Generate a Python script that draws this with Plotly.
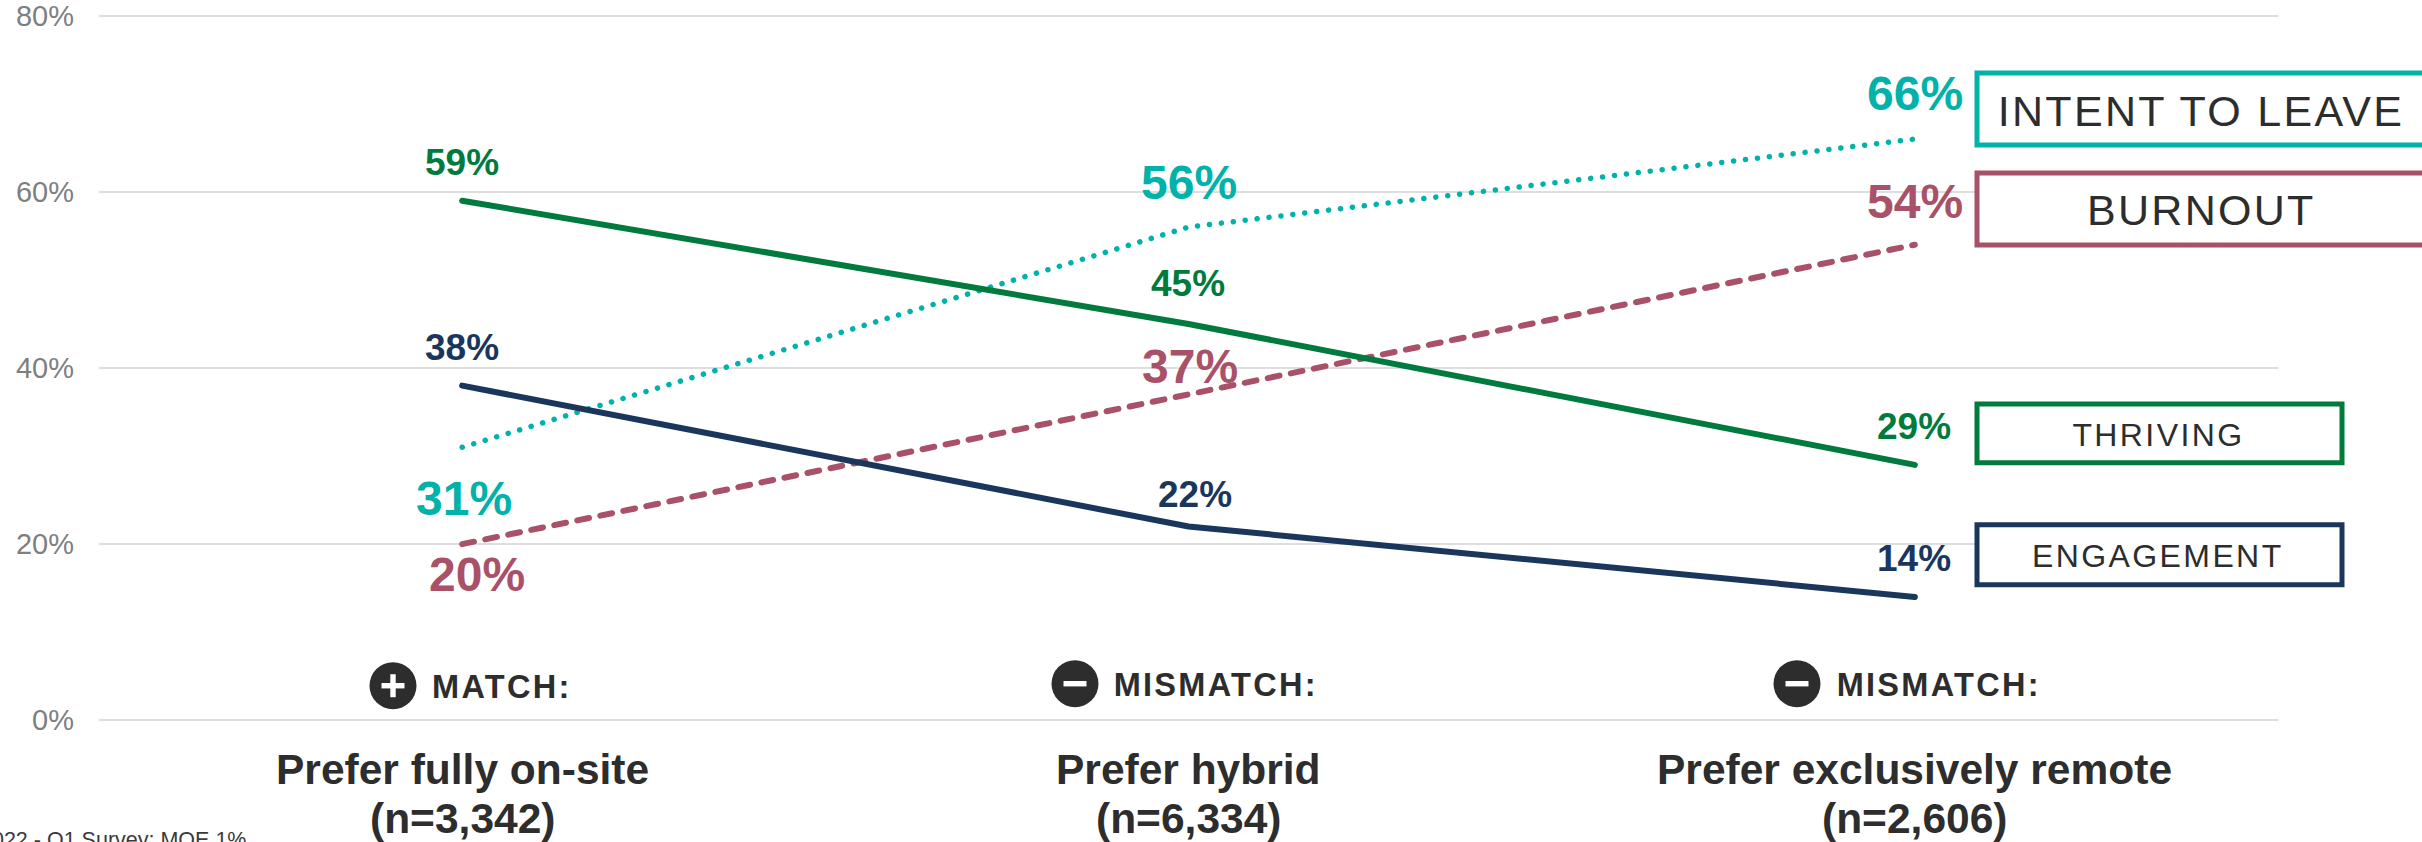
import plotly.graph_objects as go

# Survey results by work-location preference
categories = ["Prefer fully on-site", "Prefer hybrid", "Prefer exclusively remote"]
sample_sizes = ["n=3,342", "n=6,334", "n=2,606"]
match_labels = ["MATCH:", "MISMATCH:", "MISMATCH:"]
match_signs = ["+", "-", "-"]

intent_to_leave = [31, 56, 66]
burnout = [20, 37, 54]
thriving = [59, 45, 29]
engagement = [38, 22, 14]

y_ticks = [0, 20, 40, 60, 80]
source_note = "2022 - Q1 Survey; MOE 1%"

TEAL = "#00B2A9"
ROSE = "#A95168"
GREEN = "#007A3D"
NAVY = "#1B365D"
INK = "#2D2D2D"

W, H = 2422, 842
L, R, T, B = 99, 144, 6.9, 112.7


def px(x):
    return (x - L) / (W - L - R)


def py(y):
    return 1 - (y - T) / (H - T - B)


fig = go.Figure()

series = [
    ("Intent to leave", intent_to_leave, TEAL, "0.1px,11.9px", 5.5),
    ("Burnout", burnout, ROSE, "12px,11.5px", 6),
    ("Thriving", thriving, GREEN, "solid", 6),
    ("Engagement", engagement, NAVY, "solid", 6),
]
for name, values, color, dash, width in series:
    fig.add_trace(go.Scatter(
        x=[0, 1, 2], y=values, name=name, mode="lines",
        line=dict(color=color, width=width, dash=dash),
        showlegend=False, hoverinfo="skip",
    ))

annotations = []


def value_label(i, value, color, size, dy, dx=0):
    annotations.append(dict(
        x=i, y=value, xref="x", yref="y", text=f"<b>{value}%</b>", showarrow=False,
        xshift=dx, yshift=dy, xanchor="center", yanchor="middle",
        font=dict(family="Liberation Sans", size=size, color=color),
    ))


# Point labels, offset from each line by hand so they do not collide
for i, (v, dy, dx) in enumerate(zip(intent_to_leave, [-51, 45, 46], [2, 0, 0])):
    value_label(i, v, TEAL, 48, dy, dx)
for i, (v, dy, dx) in enumerate(zip(burnout, [-30, 28, 43], [15, 1, 0])):
    value_label(i, v, ROSE, 48, dy, dx)
for i, (v, dy, dx) in enumerate(zip(thriving, [38, 40, 38], [0, -1, -1])):
    value_label(i, v, GREEN, 37, dy, dx)
for i, (v, dy, dx) in enumerate(zip(engagement, [38, 32, 38], [0, 6, -1])):
    value_label(i, v, NAVY, 37, dy, dx)

# Category names and sample sizes, set closer together than tick labels allow
for i, (cat, n) in enumerate(zip(categories, sample_sizes)):
    for text, y in ((cat, 770), (f"({n})", 819)):
        annotations.append(dict(
            x=i, xref="x", y=py(y), yref="paper", text=f"<b>{text}</b>", showarrow=False,
            xanchor="center", yanchor="middle",
            font=dict(family="Liberation Sans", size=42.5, color=INK),
        ))

shapes = []

# Legend boxes on the right, white-filled so they hide the gridlines behind them
boxes = [
    ("INTENT TO LEAVE", TEAL, 73, 145, 2480, 2201, 43),
    ("BURNOUT", ROSE, 173, 245, 2480, 2201, 43),
    ("THRIVING", GREEN, 404, 463, 2342, 2158, 32),
    ("ENGAGEMENT", NAVY, 525, 585, 2342, 2158, 32),
]
for label, color, y0, y1, x1, cx, size in boxes:
    shapes.append(dict(
        type="rect", xref="paper", yref="paper", layer="above",
        x0=px(1977), x1=px(x1), y0=py(y1), y1=py(y0),
        line=dict(color=color, width=5), fillcolor="white",
    ))
    annotations.append(dict(
        xref="paper", yref="paper", x=px(cx), y=py((y0 + y1) / 2 + 1.5), text=label,
        showarrow=False, xanchor="center", yanchor="middle",
        font=dict(family="Liberation Sans", size=size, color=INK),
    ))

# Match / mismatch badges above the category labels
badges = [(393, 686, 437, 687.5), (1075, 684, 1122, 685.5), (1797, 684, 1845, 685.5)]
for (cx, cy, tx, ty), label, sign in zip(badges, match_labels, match_signs):
    shapes.append(dict(
        type="circle", xref="paper", yref="paper", layer="above",
        x0=px(cx - 23.5), x1=px(cx + 23.5), y0=py(cy + 23.5), y1=py(cy - 23.5),
        line=dict(width=0), fillcolor=INK,
    ))
    shapes.append(dict(
        type="rect", xref="paper", yref="paper", layer="above",
        x0=px(cx - 11.5), x1=px(cx + 11.5), y0=py(cy + 2.7), y1=py(cy - 2.7),
        line=dict(width=0), fillcolor="white",
    ))
    if sign == "+":
        shapes.append(dict(
            type="rect", xref="paper", yref="paper", layer="above",
            x0=px(cx - 2.7), x1=px(cx + 2.7), y0=py(cy + 11.5), y1=py(cy - 11.5),
            line=dict(width=0), fillcolor="white",
        ))
    annotations.append(dict(
        xref="paper", yref="paper", x=px(tx), y=py(ty), text=f"<b>{label}</b>",
        showarrow=False, xanchor="left", yanchor="middle",
        font=dict(family="Liberation Sans", size=32.5, color=INK),
    ))

annotations.append(dict(
    xref="paper", yref="paper", x=px(248), y=py(840), text=source_note,
    showarrow=False, xanchor="right", yanchor="middle",
    font=dict(family="Liberation Sans", size=21.5, color="#3A3A3A"),
))

fig.update_layout(
    width=W, height=H, margin=dict(l=L, r=R, t=T, b=B, autoexpand=False),
    paper_bgcolor="white", plot_bgcolor="white",
    shapes=shapes, annotations=annotations,
    xaxis=dict(
        range=[-0.5, 2.5], tickmode="array", tickvals=[0, 1, 2], automargin=False,
        showticklabels=False, showgrid=False, zeroline=False, showline=False, ticks="",
    ),
    yaxis=dict(
        range=[-1, 81], tickmode="array", tickvals=y_ticks, automargin=False,
        ticktext=[f"{t}%" for t in y_ticks],
        tickfont=dict(family="Liberation Sans", size=29, color="#7F7F7F"),
        ticklabeloverflow="allow",
        showgrid=True, gridcolor="#DEDEDE", gridwidth=2,
        zeroline=False, showline=False, ticks="", ticklabelstandoff=24,
    ),
)

# Rounded line ends and tracked capitals, neither of which the figure schema exposes
post = """
document.querySelectorAll('.js-line').forEach(function (p) {
  p.style.strokeLinecap = 'round';
});
document.querySelectorAll('.annotation-text').forEach(function (t) {
  var s = t.textContent;
  if (s === 'INTENT TO LEAVE' || s === 'BURNOUT') t.style.letterSpacing = '2.3px';
  if (s === 'THRIVING' || s === 'ENGAGEMENT') t.style.letterSpacing = '2.4px';
  if (s.indexOf('MATCH') >= 0) t.style.letterSpacing = '2.3px';
});
"""
fig.write_html("out.html", post_script=post, config=dict(displayModeBar=False))
